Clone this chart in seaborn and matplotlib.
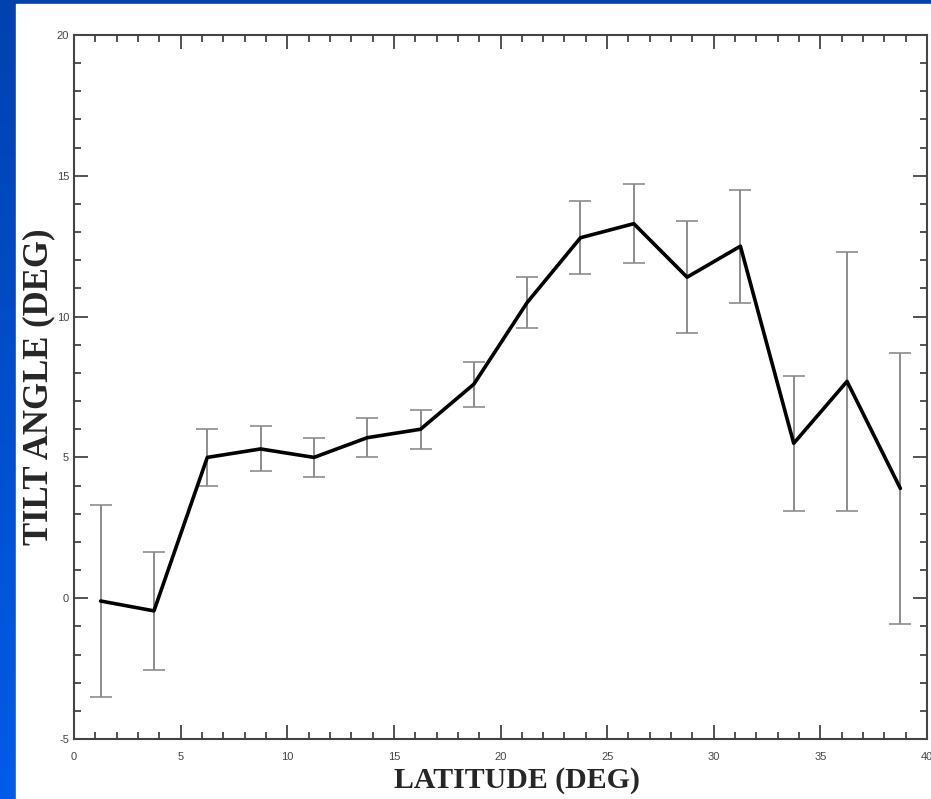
import matplotlib.pyplot as plt
import numpy as np
import pandas as pd
import seaborn as sns
from matplotlib.patches import Rectangle
from matplotlib.ticker import MultipleLocator

# dati
latitude = [1.25, 3.75, 6.25, 8.75, 11.25, 13.75, 16.25, 18.75,
            21.25, 23.75, 26.25, 28.75, 31.25, 33.75, 36.25, 38.75]
tilt = [-0.1, -0.45, 5.0, 5.3, 5.0, 5.7, 6.0, 7.6,
        10.5, 12.8, 13.3, 11.4, 12.5, 5.5, 7.7, 3.9]
tilt_err = [3.4, 2.1, 1.0, 0.8, 0.7, 0.7, 0.7, 0.8,
            0.9, 1.3, 1.4, 2.0, 2.0, 2.4, 4.6, 4.8]

df = pd.DataFrame({"lat": latitude, "tilt": tilt, "err": tilt_err})

sns.set_style("ticks")
plt.rcParams["font.family"] = ["Liberation Sans", "DejaVu Sans"]
plt.rcParams["axes.unicode_minus"] = False

fig = plt.figure(figsize=(9.31, 7.99), dpi=100)

# sfondo blu con sfumatura (bordo sinistro e superiore)
bg = fig.add_axes([0, 0, 1, 1], zorder=-2)
grad = np.linspace(0, 1, 256).reshape(-1, 1)
bg.imshow(grad, aspect="auto", extent=[0, 1, 0, 1],
          cmap=sns.blend_palette(["#005ce8", "#0042b0"], as_cmap=True),
          origin="lower")
bg.add_patch(Rectangle((16 / 931, 0), 1, 1 - 4 / 799, color="white"))
bg.set_xlim(0, 1)
bg.set_ylim(0, 1)
bg.axis("off")

ax = fig.add_axes([74 / 931, 60 / 799, 853 / 931, 704 / 799])
ax.set_facecolor("white")

_, caps, bars = ax.errorbar(df["lat"], df["tilt"], yerr=df["err"], fmt="none",
                            ecolor="#8c8c8c", elinewidth=1.4, capsize=8,
                            capthick=1.2, zorder=2)
for c in caps:
    c.set_color("#4a4a4a")
sns.lineplot(data=df, x="lat", y="tilt", color="black", linewidth=2.6,
             ax=ax, zorder=3)

ax.set_xlim(0, 40)
ax.set_ylim(-5, 20)
ax.xaxis.set_major_locator(MultipleLocator(5))
ax.xaxis.set_minor_locator(MultipleLocator(1))
ax.yaxis.set_major_locator(MultipleLocator(5))
ax.yaxis.set_minor_locator(MultipleLocator(1))
ax.tick_params(which="both", direction="in", top=True, right=True,
               color="#444444", labelsize=8, labelcolor="#444444", width=1.3)
ax.tick_params(which="major", length=10)
ax.tick_params(which="minor", length=4.7)
ax.tick_params(axis="x", which="major", pad=9)
ax.tick_params(axis="y", which="major", pad=3.5)
for s in ax.spines.values():
    s.set_color("#444444")
    s.set_linewidth(1.5)

serif = ["Liberation Serif", "DejaVu Serif"]
ax.set_xlabel("LATITUDE (DEG)", family=serif, weight="bold", size=21.5)
ax.set_ylabel("TILT ANGLE (DEG)", family=serif, weight="bold", size=25)
ax.xaxis.set_label_coords(0.519, -0.04)
ax.yaxis.set_label_coords(-0.022, 0.5)

fig.savefig("out.png", dpi=100)
